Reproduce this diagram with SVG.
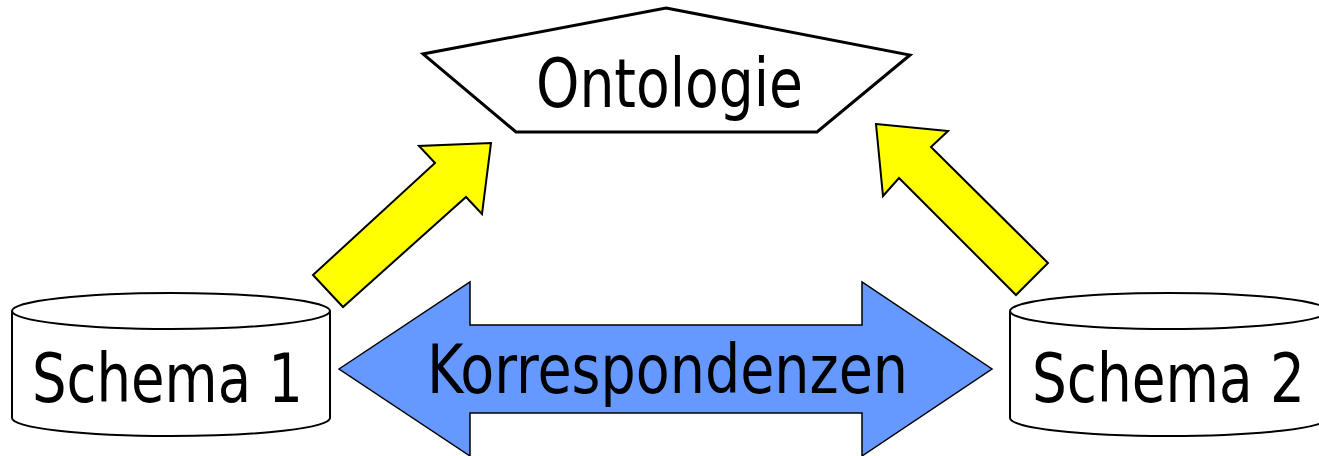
<svg xmlns="http://www.w3.org/2000/svg" width="1319" height="456" viewBox="0 0 1319 456">
  <style>
    .label { font-family: "DejaVu Sans Condensed", "DejaVu Sans", Verdana, sans-serif; font-size: 67px; fill: #000; }
    .cyl { fill: #fff; stroke: #000; stroke-width: 2; }
    .up { fill: #ffff00; stroke: #000; stroke-width: 2; stroke-linejoin: miter; }
    .both { fill: #6699ff; stroke: #000; stroke-width: 1.5; }
  </style>
  <rect width="1319" height="456" fill="#fff"/>

  <!-- connectors -->
  <g id="connectors">
    <polygon class="up" points="313,275 435,163 419,146 491,143 482,214 466,197 343,307"/>
    <polygon class="up" points="876,124 948,131 931,147 1048,263 1016,295 899,178 883,196"/>
    <g id="korrespondenzen">
      <polygon class="both" points="339,369 470,282 470,325 862,325 862,282 992,369 862,456 862,413 470,413 470,456"/>
      <text class="label" x="427" y="393" textLength="481" lengthAdjust="spacingAndGlyphs">Korrespondenzen</text>
    </g>
  </g>

  <!-- ontology -->
  <g id="ontologie">
    <polygon points="666,8 910,55 817,132 516,132 423,54" fill="#fff" stroke="#000" stroke-width="3" stroke-linejoin="miter"/>
    <text class="label" x="536" y="107" textLength="267" lengthAdjust="spacingAndGlyphs">Ontologie</text>
  </g>

  <!-- schema 1 -->
  <g id="schema1">
    <path class="cyl" d="M12,311 L12,418 A159,18 0 0 0 330,418 L330,311"/>
    <ellipse class="cyl" cx="171" cy="311" rx="159" ry="18"/>
    <text class="label" x="32" y="402" textLength="271" lengthAdjust="spacingAndGlyphs">Schema 1</text>
  </g>

  <!-- schema 2 -->
  <g id="schema2">
    <path class="cyl" d="M1010,311 L1010,418 A159,18 0 0 0 1328,418 L1328,311"/>
    <ellipse class="cyl" cx="1169" cy="311" rx="159" ry="18"/>
    <text class="label" x="1032" y="402" textLength="273" lengthAdjust="spacingAndGlyphs">Schema 2</text>
  </g>
</svg>
